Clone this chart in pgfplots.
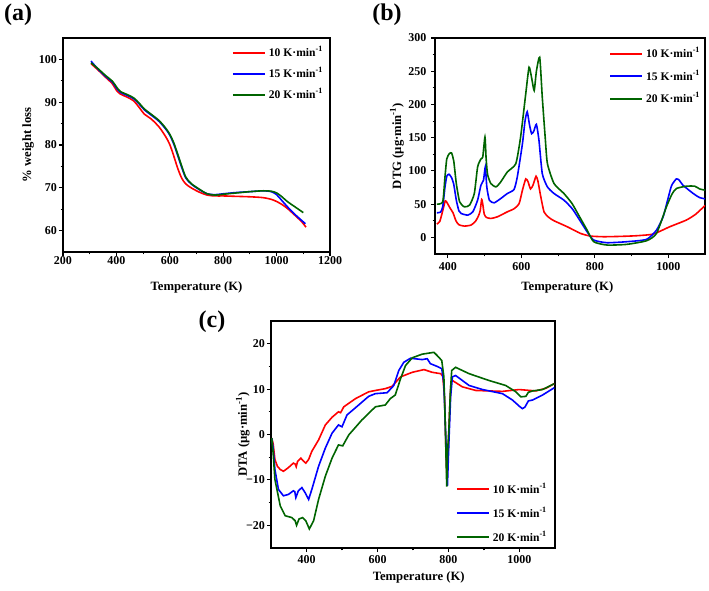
\documentclass[border=0pt]{standalone}
\usepackage{fontspec}
\setmainfont{Liberation Serif}
\usepackage{pgfplots}
\pgfplotsset{compat=1.18}

\definecolor{cR}{RGB}{255,0,0}
\definecolor{cB}{RGB}{0,0,255}
\definecolor{cG}{RGB}{0,100,0}

\pgfplotsset{
 leg/.style={legend image code/.code={\draw[##1, line width=1.5pt] (0cm,0cm) -- (0.85cm,0cm);}},
 myax/.style={
  scale only axis,
  anchor=south west,
  axis line style={line width=0.9pt},
  tick align=outside,
  xtick pos=lower, ytick pos=left,
  major tick length=3pt, minor tick length=1.8pt,
  every tick/.style={black, line width=0.8pt},
  minor tick num=1,
  tick label style={font=\fontsize{9}{10}\selectfont\bfseries},
  /pgf/number format/assume math mode=true,
  /pgf/number format/1000 sep={},
  label style={font=\fontsize{9.5}{11}\selectfont\bfseries},
  legend style={draw=none, fill=none, font=\fontsize{8.7}{10}\selectfont\bfseries, inner sep=0pt},
  legend cell align=left,
  every axis plot/.append style={line width=1.2pt, mark=none},
  xlabel={Temperature (K)},
 }
}

\begin{document}
\begin{tikzpicture}
\useasboundingbox (0,0) rectangle (531.75pt,442.5pt);

% ---------------- (a) ----------------
\begin{axis}[myax, at={(47.25pt,253.5pt)}, width=200.25pt, height=160.5pt,
  xmin=200, xmax=1200, ymin=55, ymax=105,
  xtick={200,400,...,1200}, ytick={60,70,...,100},
  ylabel={\% weight loss},
  xticklabel style={yshift=3pt},
  yticklabel style={xshift=2pt},
  xlabel style={at={(axis description cs:0.5,-0.164)}, anchor=center},
  ylabel style={at={(axis description cs:-0.131,0.5)}, anchor=center},
  legend style={at={(0.985,0.975)}, anchor=north east, row sep=2.5pt},
]
\addplot[cR, smooth, leg] coordinates {(305,99.0)(330,97.6)(360,95.8)(385,94.3)(400,92.8)(415,91.9)(440,91.2)(465,90.3)(485,88.8)(505,87.2)(530,86.1)(560,84.2)(585,81.9)(600,80.1)(615,77.4)(630,74.5)(645,72.2)(660,70.9)(680,70.0)(710,69.0)(740,68.3)(770,68.1)(800,68.1)(850,68.0)(900,67.9)(950,67.7)(980,67.3)(1000,66.8)(1020,66.1)(1040,65.2)(1070,63.5)(1095,62.0)(1110,60.8)};
\addlegendentry{10 K·min\textsuperscript{-1}}
\addplot[cB, smooth, leg] coordinates {(305,99.6)(330,97.8)(360,96.0)(385,94.7)(400,93.3)(415,92.3)(440,91.6)(465,90.8)(485,89.6)(505,88.2)(530,87.0)(560,85.5)(585,83.7)(600,82.3)(615,80.2)(630,77.5)(645,74.7)(660,72.3)(680,70.9)(710,69.6)(740,68.6)(770,68.4)(800,68.6)(850,68.9)(900,69.1)(950,69.3)(980,69.1)(1000,68.4)(1020,67.0)(1040,65.6)(1070,63.7)(1108,61.6)};
\addlegendentry{15 K·min\textsuperscript{-1}}
\addplot[cG, smooth, leg] coordinates {(305,99.2)(330,97.9)(360,96.2)(385,94.9)(400,93.6)(415,92.5)(440,91.8)(465,91.0)(485,89.8)(505,88.4)(530,87.2)(560,85.7)(585,83.9)(600,82.5)(615,80.5)(630,77.8)(645,75.0)(660,72.5)(680,71.0)(710,69.7)(740,68.6)(770,68.3)(800,68.5)(850,68.8)(900,69.1)(950,69.3)(980,69.2)(1000,68.8)(1020,67.9)(1040,66.8)(1070,65.5)(1100,64.2)};
\addlegendentry{20 K·min\textsuperscript{-1}}
\end{axis}

% ---------------- (b) ----------------
\begin{axis}[myax, at={(326.25pt,252pt)}, width=202.5pt, height=162pt,
  xmin=365, xmax=1100, ymin=-25, ymax=300,
  xtick={400,600,800,1000}, ytick={0,50,...,300},
  ylabel={DTG (µg·min\textsuperscript{-1})},
  xlabel style={at={(axis description cs:0.49,-0.153)}, anchor=center},
  ylabel style={at={(axis description cs:-0.141,0.5)}, anchor=center},
  legend style={at={(0.993,0.97)}, anchor=north east, row sep=3.5pt},
]
\addplot[cR, smooth, tension=0.35, leg] coordinates {(370,20)(378,24)(386,40)(393,55)(398,52)(405,45)(414,37)(422,25)(430,19)(445,17)(463,18.5)(475,24)(483,32)(488,40)(492,57)(495,50)(499,35)(505,30)(517,28.5)(535,31)(562,38.5)(580,43)(594,51)(603,71)(612,88)(618,84)(625,73)(632,79)(640,92)(645,85)(653,61)(662,38)(675,30)(689,25)(725,16)(761,6)(788,2)(824,1)(870,1.5)(914,2.5)(959,5)(1004,16)(1049,26)(1075,35)(1100,48)};
\addlegendentry{10 K·min\textsuperscript{-1}}
\addplot[cB, smooth, tension=0.35, leg] coordinates {(370,37)(380,38)(386,46)(392,75)(397,92)(403,95)(410,90)(416,80)(423,56)(430,40)(436,36)(454,33.5)(468,38.5)(481,56)(490,78.5)(497,86)(502,106)(506,76)(513,56)(526,52)(544,58.5)(562,66)(580,72)(589,91)(603,141)(610,175)(616,189)(622,170)(628,156)(634,160)(641,170)(648,146)(657,96)(671,76)(689,66)(716,56)(738,43.5)(756,28.5)(779,8.5)(797,-4)(833,-8)(887,-6.5)(941,-3)(968,11)(986,31)(1000,60)(1009,78)(1022,88)(1030,86)(1040,78.5)(1068,66)(1085,60)(1100,58)};
\addlegendentry{15 K·min\textsuperscript{-1}}
\addplot[cG, smooth, tension=0.35, leg] coordinates {(370,50)(386,53.5)(392,90)(397,118)(404,126)(410,127)(416,115)(423,81)(432,53.5)(445,46)(459,48.5)(472,66)(481,106)(490,118)(495,121)(501,151)(504,120)(508,95)(517,81)(531,76)(544,83.5)(562,98.5)(585,111)(598,151)(612,216)(621,256)(628,240)(635,221)(641,250)(650,271)(657,211)(665,150)(671,111)(689,81)(716,66)(738,51)(756,33.5)(779,11)(797,-6.5)(833,-11.5)(887,-10.5)(941,-5)(968,6)(995,46)(1010,65)(1022,73.5)(1049,77)(1072,77)(1085,73)(1100,71)};
\addlegendentry{20 K·min\textsuperscript{-1}}
\end{axis}

% ---------------- (c) ----------------
\begin{axis}[myax, at={(203.25pt,31.5pt)}, width=213pt, height=170.25pt,
  xmin=300, xmax=1100, ymin=-25, ymax=25,
  xtick={400,600,800,1000}, ytick={-20,-10,0,10,20},
  yticklabels={−20,−10,0,10,20},
  yticklabel style={xshift=2pt},
  xticklabel style={yshift=1pt},
  ylabel={DTA (µg·min\textsuperscript{-1})},
  xlabel style={at={(axis description cs:0.52,-0.128)}, anchor=center},
  ylabel style={at={(axis description cs:-0.099,0.5)}, anchor=center},
  legend style={at={(0.982,0.006)}, anchor=south east, row sep=4.8pt},
]
\addplot[cR, leg] coordinates {(302,-0.8)(306,-2)(311,-5.5)(318,-7)(326,-7.7)(335,-8.1)(349,-7.3)(363,-6.3)(368,-6.5)(371,-7.1)(375,-5.9)(384,-5.2)(392,-5.9)(398,-6.3)(406,-5.5)(415,-3.7)(434,-1.2)(453,2.1)(472,3.8)(490,5.0)(496,4.8)(505,6.1)(538,7.9)(575,9.4)(594,9.7)(622,10.1)(641,10.6)(665,12.7)(698,13.7)(731,14.3)(754,13.7)(778,13.4)(784,12.8)(789,8)(793,-4)(796,-10)(799,-4)(803,5)(807,11.5)(811,11.9)(839,10.5)(877,9.7)(952,9.5)(999,9.9)(1046,9.6)(1075,10.2)(1098,11.2)};
\addlegendentry{10 K·min\textsuperscript{-1}}
\addplot[cB, leg] coordinates {(302,-0.8)(306,-3)(311,-7.7)(321,-12.1)(335,-13.5)(349,-13.2)(363,-12.4)(367,-12.6)(370,-13.9)(377,-12.4)(387,-11.7)(396,-12.8)(406,-14.3)(415,-12.1)(434,-7.0)(453,-3.0)(472,0.3)(490,2.1)(500,1.7)(514,4.3)(547,6.5)(575,8.4)(594,9.0)(627,9.2)(646,10.8)(660,14.1)(674,15.9)(693,16.8)(726,16.5)(740,16.7)(749,15.6)(768,15.0)(781,14.5)(787,11.2)(792,0)(797,-11.3)(801,-2)(806,8.3)(811,12.7)(820,13.0)(858,10.8)(896,9.9)(952,9.0)(980,7.6)(1000,6.2)(1008,5.7)(1015,6)(1025,7.4)(1037,7.6)(1065,8.7)(1098,10.3)};
\addlegendentry{15 K·min\textsuperscript{-1}}
\addplot[cG, leg] coordinates {(302,-0.8)(306,-4)(311,-9.9)(326,-15.7)(340,-17.9)(359,-18.3)(368,-19)(372,-20)(379,-18.6)(389,-18.3)(398,-19)(408,-20.8)(420,-19)(434,-14.3)(453,-9.2)(472,-5.2)(490,-2.3)(502,-2.5)(519,-0.1)(556,3.2)(594,6.1)(622,6.5)(636,7.9)(650,8.7)(665,12.3)(679,15.2)(698,16.9)(726,17.7)(759,18.1)(768,17.4)(781,16.3)(787,12.7)(791,2)(795,-11.5)(798,-3)(801,1)(805,9)(809,14.1)(820,14.8)(858,13.4)(914,11.9)(961,10.8)(990,9.4)(1004,8.3)(1018,8.4)(1025,9.3)(1037,9.6)(1065,9.9)(1098,11.2)};
\addlegendentry{20 K·min\textsuperscript{-1}}
\end{axis}

\node[font=\fontsize{18}{20}\selectfont\bfseries] at (13.5pt,431.25pt) {(a)};
\node[font=\fontsize{18}{20}\selectfont\bfseries] at (290.25pt,431.25pt) {(b)};
\node[font=\fontsize{18}{20}\selectfont\bfseries] at (159pt,201pt) {(c)};
\end{tikzpicture}
\end{document}
